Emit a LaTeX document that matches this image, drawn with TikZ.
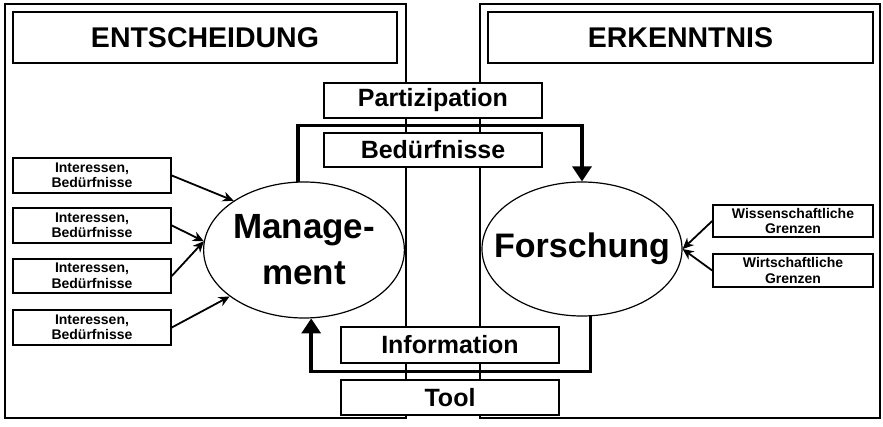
\documentclass[tikz,border=0pt]{standalone}
\usepackage{fontspec}
\setmainfont{Liberation Sans}
\usetikzlibrary{arrows.meta,calc,shapes.geometric}

\tikzset{
  panel/.style={draw,line width=1.5pt,minimum width=400pt,minimum height=414pt,inner sep=0},
  titlebox/.style={draw,fill=white,line width=1.6pt,minimum width=385pt,minimum height=51pt,inner sep=0,font=\fontsize{28.5}{32}\selectfont\bfseries},
  labelbox/.style={draw,fill=white,line width=1.6pt,minimum width=218pt,minimum height=35pt,inner sep=0,font=\fontsize{25}{28}\selectfont\bfseries},
  smallbox/.style={draw,fill=white,line width=1.6pt,minimum width=158pt,minimum height=34pt,inner sep=0,align=center,font=\fontsize{14}{15.5}\selectfont\bfseries},
  actor/.style={draw,fill=white,ellipse,line width=1.2pt,minimum width=200pt,minimum height=136pt,inner sep=0,align=center},
  feed/.style={line width=1.8pt,-{Stealth[length=11pt,width=10pt,inset=3.5pt]}},
  flow/.style={line width=3.4pt,-{Triangle[length=15pt,width=19pt]}}
}

\begin{document}
\begin{tikzpicture}[x=1pt,y=-1pt]
  \useasboundingbox (0,0) rectangle (883,427);

  \node[panel,minimum width=401pt] (ent) at (205.5,211) {};
  \node[panel] (erk) at (680,211) {};
  \node[titlebox,minimum width=384pt] (entTitle) at (205,37.5) {ENTSCHEIDUNG};
  \node[titlebox] (erkTitle) at (680.5,37.5) {ERKENNTNIS};

  \node[labelbox] (part) at (433,100.5) {Partizipation};
  \node[labelbox,minimum height=34pt] (bed) at (433,150) {Bedürfnisse};
  \node[labelbox,minimum height=36pt] (info) at (450,345) {Information};
  \node[labelbox] (tool) at (450,397.5) {Tool};

  \node[actor,font=\fontsize{35}{46}\selectfont\bfseries] (mgmt) at (304,250) {Manage-\\ment};
  \node[actor,minimum height=134pt,inner xsep=-18pt,font=\fontsize{34}{40}\selectfont\bfseries] (fors) at (582,249) {Forschung};

  \node[smallbox,minimum height=35pt] (int1) at (92,175.5) {Interessen,\\Bedürfnisse};
  \node[smallbox,minimum height=35pt] (int2) at (92,225.5) {Interessen,\\Bedürfnisse};
  \node[smallbox] (int3) at (92,276) {Interessen,\\Bedürfnisse};
  \node[smallbox,minimum height=35pt] (int4) at (92,327.5) {Interessen,\\Bedürfnisse};

  \node[smallbox,minimum width=160pt,minimum height=32pt] (wiss) at (793,221) {Wissenschaftliche\\Grenzen};
  \node[smallbox,minimum width=160pt,minimum height=33pt] (wirt) at (793,270.5) {Wirtschaftliche\\Grenzen};

  \draw[feed] (int1.east) -- (mgmt.145);
  \draw[feed] (int2.east) -- (mgmt.175);
  \draw[feed] (int3.east) -- (mgmt.175);
  \draw[feed] (int4.east) -- (mgmt.212);
  \draw[feed] (wiss.west) -- (fors.east);
  \draw[feed] (wirt.west) -- (fors.east);

  \draw[flow] (mgmt.95) |- ($(part.south)!.5!(bed.north)$) -| (fors.north);
  \draw[flow] (fors.-83) |- ($(info.south)!.5!(tool.north)$) -| (mgmt.-84);
\end{tikzpicture}
\end{document}
